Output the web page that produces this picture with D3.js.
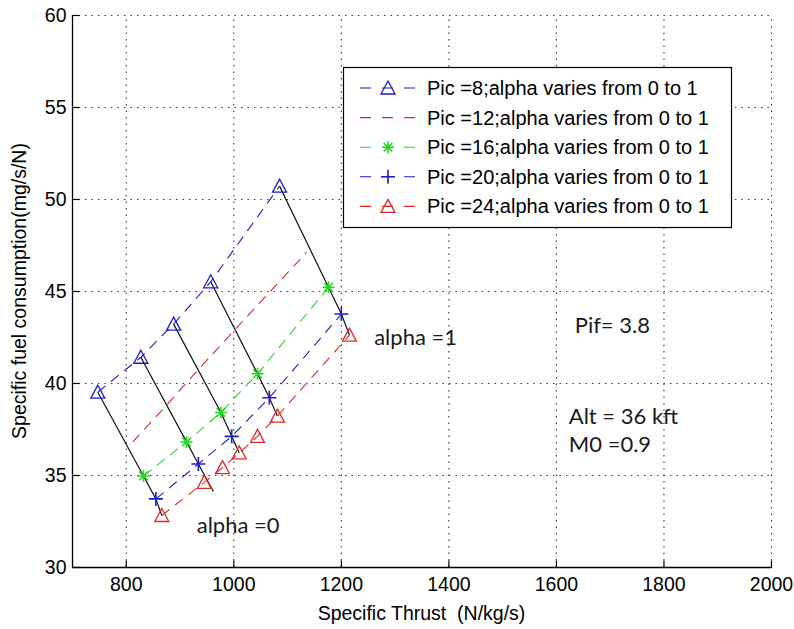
<!DOCTYPE html>
<html>
<head>
<meta charset="utf-8">
<script src="https://cdn.jsdelivr.net/npm/d3@7"></script>
<style>
  html, body { margin: 0; padding: 0; background: #fff; }
  svg { display: block; }
  .matlab { font-family: "Liberation Sans", Arial, Helvetica, sans-serif; fill: #000; white-space: pre; }
  .note { font-family: Lato, "Open Sans", sans-serif; fill: #1a1a1a; }
</style>
</head>
<body>
<svg id="chart" width="794" height="629"></svg>
<script>
// Axis ticks
const xTicks = [800, 1000, 1200, 1400, 1600, 1800, 2000];
const yTicks = [30, 35, 40, 45, 50, 55, 60];

// Specific thrust (N/kg/s) and SFC (mg/s/N) for each compressor pressure ratio,
// alpha swept from 0 to 1 along each curve
const pic8X  = [748, 828, 889, 958, 1086];
const pic8Y  = [39.5, 41.4, 43.2, 45.5, 50.7];
const pic12X = [813, 876, 934, 1003, 1136];
const pic12Y = [36.8, 38.8, 40.7, 42.9, 47.1];
const pic16X = [833, 913, 977, 1045, 1177];
const pic16Y = [34.95, 36.8, 38.4, 40.5, 45.2];
const pic20X = [856, 935, 997, 1067, 1201];
const pic20Y = [33.7, 35.6, 37.1, 39.2, 43.75];
const pic24X = [867, 946, 980, 1011, 1045, 1082, 1216];
const pic24Y = [32.8, 34.6, 35.4, 36.2, 37.1, 38.2, 42.6];

// Lines of constant alpha running across the Pic curves
const isoAlphaX = [
  [748, 833, 856, 867],
  [828, 913, 935, 963],
  [889, 977, 997, 1011],
  [958, 1045, 1067, 1082],
  [1086, 1177, 1201, 1216]
];
const isoAlphaY = [
  [39.5, 34.95, 33.7, 32.8],
  [41.4, 36.8, 35.6, 34.1],
  [43.2, 38.4, 37.1, 36.2],
  [45.5, 40.5, 39.2, 38.2],
  [50.7, 45.2, 43.75, 42.6]
];

const legendLabels = [
  "Pic =8;alpha varies from 0 to 1",
  "Pic =12;alpha varies from 0 to 1",
  "Pic =16;alpha varies from 0 to 1",
  "Pic =20;alpha varies from 0 to 1",
  "Pic =24;alpha varies from 0 to 1"
];

const noteTexts = ["alpha =1", "alpha =0", "Pif= 3.8", "Alt = 36 kft", "M0 =0.9"];
const noteX = [1262, 932, 1635, 1624, 1624];
const noteY = [42.07, 31.85, 42.7, 37.77, 36.25];

const xLabel = "Specific Thrust  (N/kg/s)";
const yLabel = "Specific fuel consumption(mg/s/N)";

// ---------------------------------------------------------------
const BLUE = "#1c1ccf", RED = "#e02828", GREEN = "#22d822";
const series = [
  { xs: pic8X,  ys: pic8Y,  color: BLUE,  marker: "triangle" },
  { xs: pic12X, ys: pic12Y, color: RED,   marker: null },
  { xs: pic16X, ys: pic16Y, color: GREEN, marker: "star" },
  { xs: pic20X, ys: pic20Y, color: BLUE,  marker: "plus" },
  { xs: pic24X, ys: pic24Y, color: RED,   marker: "triangle" }
];

const plot = { left: 72, right: 771, top: 15, bottom: 567 };
const svg = d3.select("#chart");

const x = d3.scaleLinear().domain([700, 2000]).range([plot.left, plot.right]);
const y = d3.scaleLinear().domain([30, 60]).range([plot.bottom, plot.top]);

// Dotted grid
const grid = svg.append("g").attr("stroke", "#333").attr("stroke-width", 1.1)
  .attr("stroke-dasharray", "1.4,5.1");
grid.selectAll("line.gx").data(xTicks).join("line")
  .attr("x1", d => x(d) + 0.5).attr("x2", d => x(d) + 0.5)
  .attr("y1", plot.bottom).attr("y2", plot.top);
grid.selectAll("line.gy").data(yTicks.filter(v => v > 30)).join("line")
  .attr("x1", plot.left).attr("x2", plot.right)
  .attr("y1", d => y(d) + 0.5).attr("y2", d => y(d) + 0.5);

// Axes (ticks point inward, no box)
const xAxis = d3.axisBottom(x).tickValues(xTicks).tickFormat(d3.format("d"))
  .tickSizeInner(-7).tickSizeOuter(0).tickPadding(10);
const yAxis = d3.axisLeft(y).tickValues(yTicks).tickFormat(d3.format("d"))
  .tickSizeInner(-7).tickSizeOuter(0).tickPadding(6);

const gx = svg.append("g").attr("transform", `translate(0,${plot.bottom + 0.5})`).call(xAxis);
const gy = svg.append("g").attr("transform", `translate(${plot.left + 0.5},0)`).call(yAxis);
[gx, gy].forEach(g => {
  g.select(".domain").attr("stroke", "#000").attr("stroke-width", 1.3);
  g.selectAll(".tick line").attr("stroke", "#000").attr("stroke-width", 1.2);
  g.selectAll(".tick text").attr("class", "matlab").attr("font-size", 19.5).attr("fill", "#000");
});
gx.select(".domain").attr("d", `M${plot.left},0H${plot.right + 0.5}`);
gy.select(".domain").attr("d", `M0,${plot.bottom + 0.5}V${plot.top}`);

// Axis labels
svg.append("text").attr("class", "matlab").attr("font-size", 19.5)
  .attr("x", (plot.left + plot.right) / 2).attr("y", 620)
  .attr("text-anchor", "middle").text(xLabel);
svg.append("text").attr("class", "matlab").attr("font-size", 19.5)
  .attr("transform", `translate(26,${(plot.top + plot.bottom) / 2}) rotate(-90)`)
  .attr("text-anchor", "middle").text(yLabel);

// Marker shapes
function drawMarker(g, type, color, cx, cy) {
  if (type === "triangle") {
    g.append("path")
      .attr("d", `M${cx},${cy - 7}L${cx + 7},${cy + 6}L${cx - 7},${cy + 6}Z`)
      .attr("fill", "none").attr("stroke", color).attr("stroke-width", 1.3);
  } else if (type === "star") {
    const r = 6, q = 4.3;
    g.append("path")
      .attr("d", `M${cx - r},${cy}H${cx + r}M${cx},${cy - r}V${cy + r}` +
                 `M${cx - q},${cy - q}L${cx + q},${cy + q}M${cx - q},${cy + q}L${cx + q},${cy - q}`)
      .attr("stroke", color).attr("stroke-width", 1.5);
  } else if (type === "plus") {
    const r = 7;
    g.append("path")
      .attr("d", `M${cx - r},${cy}H${cx + r}M${cx},${cy - r}V${cy + r}`)
      .attr("stroke", color).attr("stroke-width", 1.6);
  }
}

const line = d3.line().x(d => x(d[0])).y(d => y(d[1]));
const DASH = "10,7";

// Iso-alpha lines (solid black)
const iso = svg.append("g");
isoAlphaX.forEach((xs, i) => {
  iso.append("path")
    .attr("d", line(xs.map((v, j) => [v, isoAlphaY[i][j]])))
    .attr("fill", "none").attr("stroke", "#111").attr("stroke-width", 1.2);
});

// Pic curves (dashed) with markers
const curves = svg.append("g");
series.forEach(s => {
  const pts = s.xs.map((v, j) => [v, s.ys[j]]);
  curves.append("path").attr("d", line(pts))
    .attr("fill", "none").attr("stroke", s.color).attr("stroke-width", 1.1)
    .attr("stroke-dasharray", DASH);
  if (s.marker) pts.forEach(p => drawMarker(curves, s.marker, s.color, x(p[0]), y(p[1])));
});

// Legend
const leg = { x: 343, y: 67, w: 388, h: 160, row: 29.6, first: 88 };
const lg = svg.append("g");
lg.append("rect").attr("x", leg.x + 0.5).attr("y", leg.y + 0.5).attr("width", leg.w).attr("height", leg.h)
  .attr("fill", "#fff").attr("stroke", "#000").attr("stroke-width", 1.2);
series.forEach((s, i) => {
  const cy = leg.first + i * leg.row;
  lg.append("line").attr("x1", leg.x + 14).attr("x2", leg.x + 76)
    .attr("y1", cy).attr("y2", cy)
    .attr("stroke", s.color).attr("stroke-width", 1.1).attr("stroke-dasharray", "11,11")
    .attr("stroke-dashoffset", -3);
  if (s.marker) drawMarker(lg, s.marker, s.color, leg.x + 45, cy);
  lg.append("text").attr("class", "matlab").attr("font-size", 20)
    .attr("x", leg.x + 84).attr("y", cy + 7).text(legendLabels[i]);
});

// Annotations
svg.append("g").selectAll("text").data(noteTexts).join("text")
  .attr("class", "note").attr("font-size", 22)
  .attr("x", (d, i) => x(noteX[i])).attr("y", (d, i) => y(noteY[i]))
  .text(d => d);
</script>
</body>
</html>
